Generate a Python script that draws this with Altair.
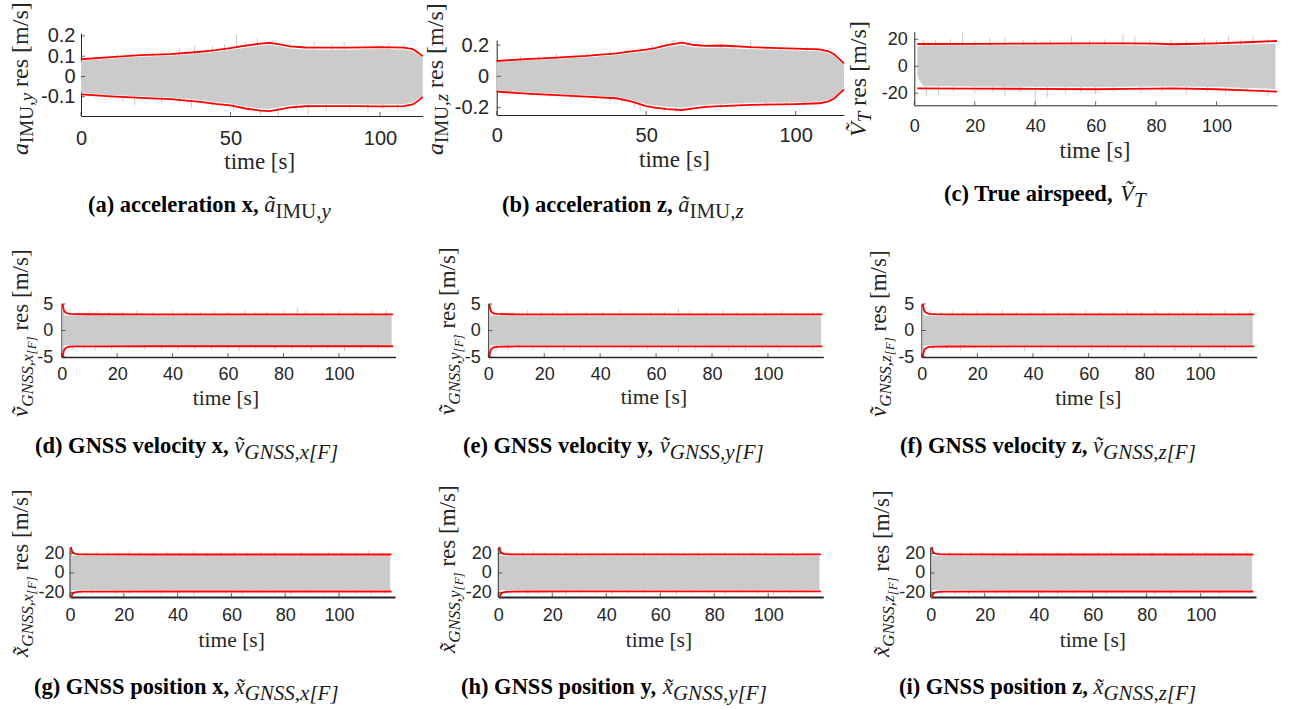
import altair as alt
import pandas as pd

W, H = 1289, 710
GRAY = "#cbcbcb"
RED = "#ff0000"
AX = "#262626"

# ---------------- values ----------------
# (a) acceleration x
a_red_t = [0, 10, 20, 30, 40, 45, 50, 55, 60, 63, 66, 70, 75, 80, 90, 100, 108, 111, 113, 114.3]
a_red_hi = [0.085, 0.095, 0.105, 0.11, 0.122, 0.13, 0.14, 0.152, 0.162, 0.166, 0.16, 0.148, 0.143, 0.142, 0.142, 0.145, 0.142, 0.135, 0.115, 0.1]
a_red_lo = [-0.088, -0.098, -0.106, -0.112, -0.125, -0.135, -0.143, -0.158, -0.168, -0.171, -0.163, -0.152, -0.147, -0.146, -0.146, -0.148, -0.146, -0.138, -0.118, -0.1]
a_gray_hi = [0.078, 0.088, 0.097, 0.102, 0.113, 0.121, 0.13, 0.142, 0.151, 0.155, 0.15, 0.138, 0.133, 0.132, 0.132, 0.135, 0.132, 0.125, 0.106, 0.092]
a_gray_lo = [-0.081, -0.091, -0.098, -0.104, -0.116, -0.126, -0.133, -0.148, -0.157, -0.16, -0.152, -0.142, -0.137, -0.136, -0.136, -0.138, -0.136, -0.128, -0.109, -0.092]
a_spk_t = [5, 12, 17, 24, 33, 38, 44, 48, 52, 55, 59, 64, 70, 78, 84, 88, 95, 103, 108,
           3, 10, 14, 18, 27, 33, 37, 44, 51, 56, 60, 66, 72, 76, 82, 90, 96, 101, 106]
a_spk_v = [0.1, 0.11, 0.115, 0.12, 0.14, 0.15, 0.15, 0.16, 0.205, 0.17, 0.19, 0.18, 0.16, 0.17, 0.16, 0.17, 0.155, 0.165, 0.16,
           -0.1, -0.11, -0.125, -0.14, -0.13, -0.13, -0.155, -0.15, -0.165, -0.17, -0.19, -0.195, -0.17, -0.19, -0.17, -0.165, -0.175, -0.16, -0.17]

# (b) acceleration z
b_red_t = [0, 10, 20, 30, 40, 45, 50, 53, 57, 62, 66, 70, 75, 85, 100, 108, 111, 113, 116.2]
b_red_hi = [0.098, 0.11, 0.12, 0.13, 0.147, 0.16, 0.17, 0.18, 0.2, 0.215, 0.2, 0.195, 0.197, 0.186, 0.177, 0.172, 0.16, 0.14, 0.083]
b_red_lo = [-0.098, -0.11, -0.12, -0.13, -0.14, -0.16, -0.19, -0.2, -0.21, -0.215, -0.205, -0.195, -0.19, -0.182, -0.177, -0.172, -0.16, -0.14, -0.083]
b_gray_hi = [0.09, 0.102, 0.112, 0.121, 0.137, 0.149, 0.158, 0.168, 0.186, 0.2, 0.186, 0.181, 0.183, 0.173, 0.165, 0.16, 0.149, 0.13, 0.075]
b_gray_lo = [-0.09, -0.102, -0.112, -0.121, -0.13, -0.149, -0.177, -0.186, -0.195, -0.2, -0.19, -0.181, -0.177, -0.169, -0.165, -0.16, -0.149, -0.13, -0.075]
b_spk_t = [3, 8, 14, 20, 26, 30, 38, 44, 48, 52, 55, 58, 61, 64, 68, 75, 79, 85, 90, 95, 100, 104, 109,
           5, 12, 18, 25, 33, 38, 42, 46, 48, 53, 56, 60, 65, 70, 75, 82, 90, 97, 103, 108]
b_spk_v = [0.11, 0.13, 0.13, 0.145, 0.14, 0.15, 0.16, 0.17, 0.185, 0.2, 0.215, 0.21, 0.22, 0.21, 0.205, 0.2, 0.2, 0.235, 0.19, 0.185, 0.185, 0.185, 0.18,
           -0.11, -0.125, -0.13, -0.14, -0.15, -0.16, -0.17, -0.2, -0.22, -0.215, -0.23, -0.225, -0.22, -0.205, -0.21, -0.2, -0.19, -0.19, -0.19, -0.18]

# (c) true airspeed
c_red_t = [1, 20, 40, 60, 70, 80, 85, 90, 100, 110, 120]
c_red_hi = [16.5, 16.6, 16.8, 17, 17, 16.8, 16.3, 16.5, 17, 17.8, 18.7]
c_red_lo = [-16.3, -16.5, -16.7, -17, -16.8, -16.5, -16.3, -16.5, -17, -17.8, -18.8]
c_gray_t = [1, 1.5, 3, 20, 40, 60, 80, 90, 100, 110, 119.5]
c_gray_hi = [14, 15, 15.3, 15.5, 15.6, 15.7, 15.3, 15.2, 15.6, 16.2, 16.8]
c_gray_lo = [-6, -10, -14.5, -15, -15.2, -15.3, -15, -15, -15.4, -16, -16.8]
c_spk_t = [3, 7, 12, 16, 20, 25, 30, 36, 40, 45, 52, 58, 63, 69, 73, 78, 85, 90, 96, 100, 104, 108, 112, 117,
           4, 8, 13, 20, 26, 30, 35, 40, 44, 50, 55, 60, 66, 75, 82, 90, 97, 103, 110, 117]
c_spk_v = [20, 19.5, 20, 25, 19, 21, 21, 19.5, 20, 20, 22, 19.5, 20, 24, 22, 20, 20, 19, 21, 19.5, 22, 20, 22, 20,
           -22, -21, -19, -20, -19, -22, -19, -26, -23, -20, -19, -21, -19, -20, -19, -21, -19, -20, -19, -22]

# GNSS velocity (d, e, f)
v_red_t = [0.3, 0.5, 0.7, 1.0, 1.5, 2.2, 3, 5, 10, 30, 60, 90, 119.5]
d_red_hi = [6, 4.6, 4.0, 3.6, 3.35, 3.22, 3.15, 3.1, 3.07, 3.05, 3.05, 3.05, 3.05]
d_red_lo = [-6, -4.6, -4.0, -3.55, -3.3, -3.15, -3.05, -3.0, -2.98, -2.97, -2.97, -2.97, -2.97]
e_red_hi = [6, 4.6, 4.0, 3.6, 3.35, 3.2, 3.12, 3.08, 3.05, 3.03, 3.03, 3.03, 3.03]
e_red_lo = [-6, -4.6, -4.0, -3.55, -3.3, -3.15, -3.08, -3.04, -3.0, -3.0, -3.0, -3.0, -3.0]
f_red_hi = [6, 4.7, 4.1, 3.65, 3.38, 3.22, 3.15, 3.1, 3.06, 3.05, 3.05, 3.05, 3.05]
f_red_lo = [-6, -4.7, -4.1, -3.6, -3.35, -3.2, -3.1, -3.05, -3.02, -3.0, -3.0, -3.0, -3.0]
v_gray_t = [0.15, 0.6, 0.8, 10, 30, 50, 70, 90, 110, 119]
d_gray_hi = [5, 5, 2.85, 2.9, 2.85, 2.9, 2.9, 2.85, 2.9, 2.9]
d_gray_lo = [-5, -5, -2.8, -2.8, -2.75, -2.8, -2.8, -2.75, -2.8, -2.8]
e_gray_hi = [5, 5, 2.8, 2.85, 2.85, 2.8, 2.85, 2.85, 2.8, 2.85]
e_gray_lo = [-5, -5, -2.8, -2.85, -2.8, -2.85, -2.8, -2.85, -2.8, -2.85]
f_gray_hi = [5, 5, 2.85, 2.9, 2.9, 2.85, 2.9, 2.9, 2.85, 2.9]
f_gray_lo = [-5, -5, -2.85, -2.85, -2.8, -2.85, -2.85, -2.8, -2.85, -2.85]
d_spk_t = [3, 6, 10, 13, 17, 22, 27, 33, 40, 45, 50, 55, 60, 66, 70, 74, 80, 85, 88, 94, 100, 106, 112, 117,
           4, 8, 12, 18, 24, 30, 36, 42, 48, 54, 60, 64, 70, 77, 83, 90, 96, 102, 108, 114]
d_spk_v = [4.0, 3.6, 3.7, 3.8, 3.5, 3.6, 3.7, 3.5, 3.8, 3.5, 3.6, 3.7, 3.5, 3.8, 3.6, 3.5, 3.7, 4.3, 3.8, 3.6, 3.7, 3.5, 3.8, 3.9,
           -3.7, -3.5, -3.8, -3.6, -3.5, -3.7, -3.6, -3.8, -3.5, -3.7, -3.6, -3.9, -3.5, -3.7, -3.6, -3.8, -3.5, -3.9, -3.6, -3.7]
e_spk_t = [2, 5, 9, 14, 19, 23, 28, 35, 41, 47, 52, 58, 63, 68, 72, 78, 84, 89, 95, 99, 105, 110, 116,
           3, 7, 11, 16, 21, 27, 33, 39, 45, 51, 57, 62, 68, 74, 80, 86, 92, 98, 104, 110, 116]
e_spk_v = [3.7, 3.6, 3.5, 3.8, 3.6, 3.5, 3.7, 3.6, 3.5, 3.8, 3.6, 3.5, 3.6, 4.1, 3.7, 3.5, 3.8, 3.6, 3.5, 3.6, 3.7, 3.5, 3.6,
           -3.6, -3.8, -3.5, -3.7, -3.5, -3.9, -3.6, -3.7, -3.5, -3.8, -3.6, -3.7, -4.0, -3.6, -3.5, -3.8, -3.7, -3.6, -3.9, -3.5, -3.6]
f_spk_t = [3, 7, 11, 15, 20, 24, 29, 34, 39, 44, 49, 54, 59, 64, 69, 74, 79, 84, 89, 94, 99, 104, 109, 114, 118,
           4, 9, 14, 19, 25, 31, 37, 43, 49, 55, 61, 67, 73, 79, 85, 91, 97, 103, 109, 115]
f_spk_v = [3.8, 3.6, 3.7, 3.5, 3.8, 3.6, 3.9, 3.5, 3.6, 3.7, 3.5, 3.6, 3.8, 3.5, 3.6, 3.7, 3.5, 3.9, 3.6, 3.5, 3.7, 3.6, 3.8, 3.5, 3.9,
           -3.6, -3.5, -3.8, -3.6, -3.7, -3.5, -3.9, -3.6, -3.8, -3.5, -3.7, -3.6, -3.8, -3.5, -3.6, -3.9, -3.7, -3.5, -3.8, -3.6]

# GNSS position (g, h, i)
p_red_t = [0.3, 0.5, 0.7, 1.0, 1.5, 2.2, 3, 5, 10, 30, 60, 90, 119.5]
g_red_hi = [30, 25, 22.5, 21, 20, 19.5, 19.2, 19.0, 18.9, 18.8, 18.8, 18.8, 18.8]
g_red_lo = [-30, -25, -22.5, -21, -20, -19.5, -19.2, -19.0, -18.9, -18.8, -18.8, -18.8, -18.8]
h_red_hi = [30, 25, 22.5, 21, 20, 19.5, 19.2, 19.0, 18.9, 18.9, 18.9, 18.9, 18.9]
h_red_lo = [-30, -25, -22.5, -21, -20, -19.5, -19.2, -19.0, -18.8, -18.7, -18.7, -18.7, -18.7]
i_red_hi = [30, 25, 22.5, 21, 20, 19.5, 19.2, 19.0, 18.9, 18.8, 18.8, 18.8, 18.8]
i_red_lo = [-30, -25, -22.5, -21, -20, -19.5, -19.2, -19.0, -18.9, -18.8, -18.8, -18.8, -18.8]
p_gray_t = [0.15, 0.6, 0.8, 10, 30, 50, 70, 90, 110, 119]
g_gray_hi = [26, 26, 17.6, 17.8, 17.5, 17.7, 17.6, 17.8, 17.6, 17.7]
g_gray_lo = [-24.4, -24.4, -17.4, -17.5, -17.3, -17.5, -17.4, -17.5, -17.3, -17.4]
h_gray_hi = [26, 26, 17.7, 17.6, 17.8, 17.6, 17.7, 17.6, 17.8, 17.6]
h_gray_lo = [-24.4, -24.4, -17.4, -17.3, -17.5, -17.4, -17.3, -17.5, -17.4, -17.3]
i_gray_hi = [26, 26, 17.6, 17.7, 17.6, 17.8, 17.6, 17.7, 17.6, 17.8]
i_gray_lo = [-24.4, -24.4, -17.5, -17.4, -17.5, -17.3, -17.5, -17.4, -17.5, -17.3]
g_spk_t = [3, 6, 10, 14, 18, 22, 26, 31, 36, 41, 46, 51, 56, 61, 66, 71, 76, 81, 86, 91, 96, 101, 106, 111, 116,
           4, 8, 12, 17, 22, 28, 34, 40, 46, 52, 58, 64, 70, 76, 82, 88, 94, 100, 106, 112, 117]
g_spk_v = [21, 20.5, 22, 21, 20.5, 22.5, 21, 20.5, 22, 21, 23, 20.5, 21.5, 22, 20.5, 21, 22, 20.5, 21, 20.5, 22, 21, 20.5, 22.5, 21,
           -20.5, -21, -20.5, -22, -21, -20.5, -22, -21, -23, -20.5, -21.5, -22, -20.5, -21, -22, -20.5, -21, -23, -21, -22, -20.5]
h_spk_t = [2, 5, 9, 13, 17, 21, 25, 29, 34, 39, 44, 49, 54, 59, 64, 69, 74, 79, 84, 89, 94, 99, 104, 109, 114,
           3, 7, 11, 15, 20, 25, 30, 36, 42, 48, 54, 60, 66, 72, 78, 84, 90, 96, 102, 108, 114]
h_spk_v = [21.5, 20.5, 21, 22.5, 21, 20.5, 22, 21, 20.5, 22, 21, 20.5, 21.5, 22, 20.5, 21, 22, 20.5, 21, 20.5, 22, 21, 20.5, 21.5, 21,
           -21, -20.5, -22, -21, -20.5, -22.5, -21, -20.5, -22, -21, -20.5, -21.5, -22, -20.5, -21, -22, -20.5, -21, -22.5, -21, -20.5]
i_spk_t = [3, 7, 11, 15, 19, 23, 27, 32, 37, 42, 47, 52, 57, 62, 67, 72, 77, 82, 87, 92, 97, 102, 107, 112, 117,
           4, 9, 14, 19, 24, 29, 35, 41, 47, 53, 59, 65, 71, 77, 83, 89, 95, 101, 107, 113, 118]
i_spk_v = [21, 22, 20.5, 21.5, 22, 20.5, 21, 22.5, 21, 20.5, 22, 21, 20.5, 21.5, 22, 20.5, 21, 22, 21, 20.5, 21.5, 22, 20.5, 21, 22.5,
           -20.5, -21.5, -22, -20.5, -21, -22, -20.5, -21, -22.5, -21, -20.5, -22, -21, -20.5, -21.5, -22, -20.5, -21, -22, -20.5, -21]

# tick values
ticks_x_50 = [0, 50, 100]
ticks_x_20 = [0, 20, 40, 60, 80, 100]
ticks_y_a = [-0.1, 0, 0.1, 0.2]
ticks_y_b = [-0.2, 0, 0.2]
ticks_y_20 = [-20, 0, 20]
ticks_y_5 = [-5, 0, 5]

# ---------------- layout of the nine panels (pixels) ----------------
panels = [
    dict(red_t=a_red_t, hi=a_red_hi, lo=a_red_lo, g_t=a_red_t, g_hi=a_gray_hi, g_lo=a_gray_lo, s_t=a_spk_t, s_v=a_spk_v,
         xdom=[0, 114.3], xr=[81, 422.7], ydom=[-0.195, 0.213], yr=[116, 33.3], xt=ticks_x_50, yt=ticks_y_a,
         fs=20, lpx=12, lpy=6, dw=1.0),
    dict(red_t=b_red_t, hi=b_red_hi, lo=b_red_lo, g_t=b_red_t, g_hi=b_gray_hi, g_lo=b_gray_lo, s_t=b_spk_t, s_v=b_spk_v,
         xdom=[0, 116.2], xr=[496.7, 844], ydom=[-0.247, 0.232], yr=[115, 40], xt=ticks_x_50, yt=ticks_y_b,
         fs=20, lpx=10, lpy=8, dw=1.0),
    dict(red_t=c_red_t, hi=c_red_hi, lo=c_red_lo, g_t=c_gray_t, g_hi=c_gray_hi, g_lo=c_gray_lo, s_t=c_spk_t, s_v=c_spk_v,
         xdom=[0, 120], xr=[914.3, 1277], ydom=[-28.9, 25.6], yr=[105.3, 31.7], xt=ticks_x_20, yt=ticks_y_20,
         fs=18, lpx=12, lpy=7, dw=1.0),
    dict(red_t=v_red_t, hi=d_red_hi, lo=d_red_lo, g_t=v_gray_t, g_hi=d_gray_hi, g_lo=d_gray_lo, s_t=d_spk_t, s_v=d_spk_v,
         xdom=[0, 120.4], xr=[61.7, 395.5], ydom=[-5, 5], yr=[357, 304], xt=ticks_x_20, yt=ticks_y_5,
         fs=18, lpx=8, lpy=9, dw=1.6),
    dict(red_t=v_red_t, hi=e_red_hi, lo=e_red_lo, g_t=v_gray_t, g_hi=e_gray_hi, g_lo=e_gray_lo, s_t=e_spk_t, s_v=e_spk_v,
         xdom=[0, 119.8], xr=[488.3, 823.3], ydom=[-5, 5], yr=[357, 304], xt=ticks_x_20, yt=ticks_y_5,
         fs=18, lpx=8, lpy=8, dw=1.6),
    dict(red_t=v_red_t, hi=f_red_hi, lo=f_red_lo, g_t=v_gray_t, g_hi=f_gray_hi, g_lo=f_gray_lo, s_t=f_spk_t, s_v=f_spk_v,
         xdom=[0, 120.4], xr=[921.7, 1256.7], ydom=[-5, 5], yr=[357, 304], xt=ticks_x_20, yt=ticks_y_5,
         fs=18, lpx=8, lpy=8, dw=1.6),
    dict(red_t=p_red_t, hi=g_red_hi, lo=g_red_lo, g_t=p_gray_t, g_hi=g_gray_hi, g_lo=g_gray_lo, s_t=g_spk_t, s_v=g_spk_v,
         xdom=[0, 120.8], xr=[70, 395], ydom=[-24.4, 26.4], yr=[597, 547], xt=ticks_x_20, yt=ticks_y_20,
         fs=18, lpx=9, lpy=6, dw=2.0),
    dict(red_t=p_red_t, hi=h_red_hi, lo=h_red_lo, g_t=p_gray_t, g_hi=h_gray_hi, g_lo=h_gray_lo, s_t=h_spk_t, s_v=h_spk_v,
         xdom=[0, 120.4], xr=[498.3, 823.3], ydom=[-24.4, 26.4], yr=[597, 547], xt=ticks_x_20, yt=ticks_y_20,
         fs=18, lpx=9, lpy=7, dw=2.0),
    dict(red_t=p_red_t, hi=i_red_hi, lo=i_red_lo, g_t=p_gray_t, g_hi=i_gray_hi, g_lo=i_gray_lo, s_t=i_spk_t, s_v=i_spk_v,
         xdom=[0, 120.5], xr=[930.7, 1256], ydom=[-24.4, 26.4], yr=[597, 547], xt=ticks_x_20, yt=ticks_y_20,
         fs=18, lpx=9, lpy=6, dw=2.0),
]

LABEL = "toString(datum.value)"


def make_panel(p):
    xs = alt.Scale(domain=p["xdom"], range=p["xr"], clamp=True, nice=False, zero=False)
    ys = alt.Scale(domain=p["ydom"], range=p["yr"], clamp=True, nice=False, zero=False)
    common = dict(title=None, grid=False, ticks=False, tickSize=0, domainColor=AX, domainWidth=p["dw"],
                  labelFont="Liberation Sans", labelFontSize=p["fs"], labelColor=AX,
                  labelExpr=LABEL, labelFlush=False, labelOverlap=False)
    xa = alt.Axis(orient="bottom", offset=p["yr"][0] - H, values=p["xt"], labelPadding=p["lpx"], **common)
    ya = alt.Axis(orient="left", offset=-p["xr"][0], values=p["yt"], labelPadding=p["lpy"], **common)

    def X(f):
        return alt.X(f, type="quantitative", scale=xs, axis=xa)

    def Y(f):
        return alt.Y(f, type="quantitative", scale=ys, axis=ya)

    gdf = pd.DataFrame({"t": p["g_t"], "hi": p["g_hi"], "lo": p["g_lo"]})
    sdf = pd.DataFrame(list(zip(p["s_t"], p["s_v"])), columns=["t", "v"])
    sdf["base"] = 0.0
    rdf = pd.concat([
        pd.DataFrame({"t": p["red_t"], "v": p["hi"], "side": "hi"}),
        pd.DataFrame({"t": p["red_t"], "v": p["lo"], "side": "lo"}),
    ])
    xtdf = pd.DataFrame({"t": p["xt"], "y": p["ydom"][0]})
    ytdf = pd.DataFrame({"x": p["xdom"][0], "v": p["yt"]})

    gray = alt.Chart(gdf).mark_area(color=GRAY, opacity=1).encode(x=X("t"), y=Y("hi"), y2=alt.Y2("lo"))
    spikes = alt.Chart(sdf).mark_rule(color=GRAY, strokeWidth=1).encode(x=X("t"), y=Y("base"), y2=alt.Y2("v"))
    red = alt.Chart(rdf).mark_line(color=RED, strokeWidth=1.8).encode(x=X("t"), y=Y("v"), detail="side:N")
    xt = alt.Chart(xtdf).mark_tick(orient="vertical", size=4, thickness=1, color=AX, yOffset=-2).encode(
        x=X("t"), y=Y("y"))
    yt = alt.Chart(ytdf).mark_tick(orient="horizontal", size=4, thickness=1, color=AX, xOffset=2).encode(
        x=X("x"), y=Y("v"))
    return alt.layer(gray, spikes, red, xt, yt)


# ---------------- text (captions and axis titles) ----------------
REG = {' ': 250, '(': 333, ')': 333, ',': 250, '[': 333, ']': 333, '/': 278, '.': 250,
       'A': 722, 'B': 667, 'C': 667, 'D': 722, 'E': 611, 'F': 556, 'G': 722, 'H': 722, 'I': 333, 'M': 889,
       'N': 722, 'S': 556, 'T': 611, 'U': 722, 'V': 722,
       'a': 444, 'b': 500, 'c': 444, 'd': 500, 'e': 444, 'f': 333, 'g': 500, 'h': 500, 'i': 278, 'l': 278,
       'm': 778, 'n': 500, 'o': 500, 'p': 500, 'r': 333, 's': 389, 't': 278, 'u': 500, 'v': 500, 'x': 500,
       'y': 500, 'z': 444}
ITA = {' ': 250, '(': 333, ')': 333, ',': 250, '[': 389, ']': 389, 'F': 611, 'G': 722, 'N': 667, 'S': 500,
       'T': 556, 'V': 611, 'a': 500, '\u00e3': 500, 'v': 444, 'x': 444, 'y': 444, 'z': 389}
BOLD = {' ': 250, '(': 333, ')': 333, ',': 250, 'G': 778, 'N': 722, 'S': 556, 'T': 667,
        'a': 500, 'b': 556, 'c': 444, 'd': 556, 'e': 444, 'f': 333, 'g': 500, 'h': 556, 'i': 278, 'l': 278,
        'n': 556, 'o': 500, 'p': 556, 'r': 444, 's': 389, 't': 333, 'u': 556, 'v': 500, 'x': 500, 'y': 500,
        'z': 444}
TABLES = {"r": REG, "i": ITA, "b": BOLD}


def width(text, style, size):
    tab = TABLES[style]
    return sum(0 if ch == '\u0303' else tab.get(ch, 500) for ch in text) * size / 1000.0


def run(seq, x, y, vertical=False):
    """Lay text pieces one after another; SVG drops leading/trailing blanks,
    so blanks are turned into advances."""
    rows, pos = [], 0.0
    for text, style, size, shift in seq:
        start = pos
        lead = len(text) - len(text.lstrip(" "))
        core = text.strip(" ")
        off = width(" " * lead, style, size)
        if vertical:
            rows.append(dict(text=core, style=style, size=size, px=x + shift, py=y - start - off, angle=270))
        else:
            rows.append(dict(text=core, style=style, size=size, px=x + start + off, py=y + shift, angle=0))
        pos = start + width(text, style, size)
    return rows


CB, CS, SUB = 22.5, 21, 6
captions = [
    ([("(a) acceleration x, ", "b", CB, 0), ("\u00e3", "i", CB, 0), ("IMU,", "r", CS, SUB), ("y", "i", CS, SUB)], 88, 212),
    ([("(b) acceleration z, ", "b", CB, 0), ("\u00e3", "i", CB, 0), ("IMU,", "r", CS, SUB), ("z", "i", CS, SUB)], 502, 212),
    ([("(c) True airspeed, ", "b", CB, 0), ("V\u0303", "i", CB, 0), ("T", "i", CS, SUB)], 944, 201),
    ([("(d) GNSS velocity x, ", "b", CB, 0), ("v\u0303", "i", CB, 0), ("GNSS,x[F]", "i", CS, SUB)], 35, 453),
    ([("(e) GNSS velocity y, ", "b", CB, 0), ("v\u0303", "i", CB, 0), ("GNSS,y[F]", "i", CS, SUB)], 463, 453),
    ([("(f) GNSS velocity z, ", "b", CB, 0), ("v\u0303", "i", CB, 0), ("GNSS,z[F]", "i", CS, SUB)], 900, 453),
    ([("(g) GNSS position x, ", "b", CB, 0), ("x\u0303", "i", CB, 0), ("GNSS,x[F]", "i", CS, SUB)], 34, 694),
    ([("(h) GNSS position y, ", "b", CB, 0), ("x\u0303", "i", CB, 0), ("GNSS,y[F]", "i", CS, SUB)], 461, 694),
    ([("(i) GNSS position z, ", "b", CB, 0), ("x\u0303", "i", CB, 0), ("GNSS,z[F]", "i", CS, SUB)], 899, 694),
]

Y1, Y1S = 24, 19      # row-1 y titles
Y2, Y2S = 23, 17      # rows 2-3 y titles
ytitles = [
    ([("a", "i", Y1, 0), ("IMU,", "r", Y1S, 5), ("y", "i", Y1S, 5), (" res [m/s]", "r", Y1, 0)], 28, 155),
    ([("a", "i", Y1, 0), ("IMU,", "r", Y1S, 5), ("z", "i", Y1S, 5), (" res [m/s]", "r", Y1, 0)], 443, 155),
    ([("V\u0303", "i", Y1, 0), ("T", "i", Y1S, 5), (" res [m/s]", "r", Y1, 0)], 866, 137),
    ([("v\u0303", "i", Y2, 0), ("GNSS,x", "i", Y2S, 5), ("[F]", "i", 13, 8), (" res [m/s]", "r", Y2, 0)], 28, 417),
    ([("v\u0303", "i", Y2, 0), ("GNSS,y", "i", Y2S, 5), ("[F]", "i", 13, 8), (" res [m/s]", "r", Y2, 0)], 455, 415),
    ([("v\u0303", "i", Y2, 0), ("GNSS,z", "i", Y2S, 5), ("[F]", "i", 13, 8), (" res [m/s]", "r", Y2, 0)], 886, 417),
    ([("x\u0303", "i", Y2, 0), ("GNSS,x", "i", Y2S, 5), ("[F]", "i", 13, 8), (" res [m/s]", "r", Y2, 0)], 28, 657),
    ([("x\u0303", "i", Y2, 0), ("GNSS,y", "i", Y2S, 5), ("[F]", "i", 13, 8), (" res [m/s]", "r", Y2, 0)], 455, 653),
    ([("x\u0303", "i", Y2, 0), ("GNSS,z", "i", Y2S, 5), ("[F]", "i", 13, 8), (" res [m/s]", "r", Y2, 0)], 889, 657),
]

# x-axis title "time [s]": (centre x, baseline y, size)
xtitles = [(259.7, 169, 23), (674.5, 167, 23), (1095, 158, 23),
           (226, 405, 21.5), (654, 404, 21.5), (1088.3, 405, 21.5),
           (231.7, 647, 21.5), (659, 647, 21.5), (1092.8, 647, 21.5)]

rows = []
for seq, x, y in captions:
    rows += run(seq, x, y)
for seq, x, y in ytitles:
    rows += run(seq, x, y, vertical=True)
for cx, by, sz in xtitles:
    rows += run([("time [s]", "r", sz, 0)], cx - width("time [s]", "r", sz) / 2, by)
tdf = pd.DataFrame(rows)

STYLE = {"b": ("normal", "bold", "#000000"), "i": ("italic", "normal", "#1a1a1a"), "r": ("normal", "normal", "#262626")}


def text_layer(style):
    fs, fw, col = STYLE[style]
    return alt.Chart(tdf[tdf["style"] == style]).mark_text(
        font="Liberation Serif", fontStyle=fs, fontWeight=fw, align="left", baseline="alphabetic", color=col
    ).encode(
        x=alt.X("px:Q", scale=None, axis=None),
        y=alt.Y("py:Q", scale=None, axis=None),
        text="text:N",
        size=alt.Size("size:Q", scale=None, legend=None),
        angle=alt.Angle("angle:Q", scale=None, legend=None),
    )


layers = [make_panel(p) for p in panels] + [text_layer("b"), text_layer("i"), text_layer("r")]

chart = alt.layer(*layers).resolve_scale(
    x="independent", y="independent"
).resolve_axis(
    x="independent", y="independent"
).properties(
    width=W, height=H, padding=0, autosize=alt.AutoSizeParams(type="none")
).configure_view(stroke=None)

chart.save("out.html", embed_options={"renderer": "svg", "actions": False})
